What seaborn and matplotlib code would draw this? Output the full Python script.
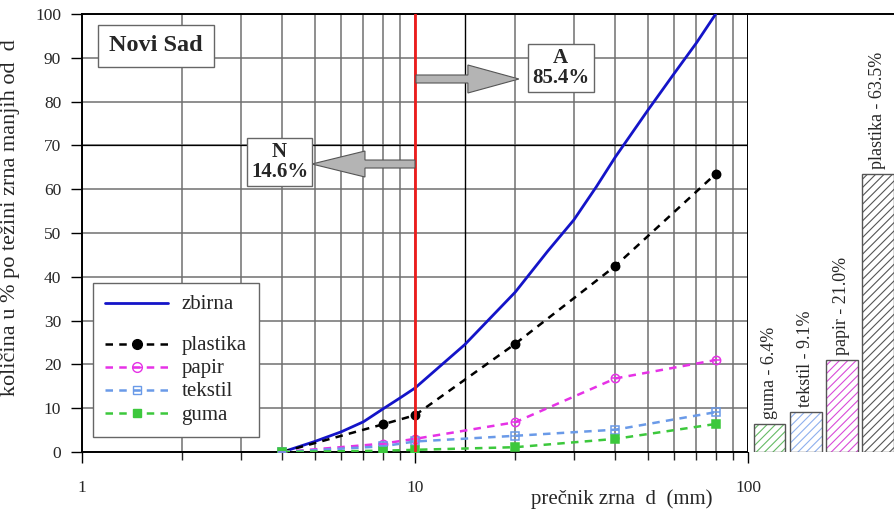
import numpy as np
import pandas as pd
import matplotlib
matplotlib.use("Agg")
import matplotlib.pyplot as plt
import seaborn as sns
from matplotlib.lines import Line2D
from matplotlib.patches import FancyArrow
from matplotlib.ticker import NullFormatter
from matplotlib.legend_handler import HandlerTuple

# grain size (mm) of the sieve points
sieve_d = [4, 8, 10, 20, 40, 80]
plastika = [0, 6.3, 8.4, 24.7, 42.5, 63.5]
papir = [0, 1.9, 3.0, 6.8, 16.8, 21.0]
tekstil = [0, 1.3, 2.4, 3.7, 5.1, 9.1]
guma = [0, 0.3, 0.5, 1.1, 3.0, 6.4]

# cumulative curve
zbirna_d = [4, 5, 6, 7, 8, 9, 10, 14.1, 20, 25, 30, 35, 40, 50, 60, 70, 80]
zbirna = [0, 2.4, 4.6, 6.9, 9.8, 12.3, 14.6, 24.5, 36.5, 45.8, 53.0, 60.5,
          67.4, 78.0, 86.4, 93.4, 100]

bar_names = ["guma", "tekstil", "papir", "plastika"]
bar_vals = [6.4, 9.1, 21.0, 63.5]

x_ticks = [1, 10, 100]
x_tick_labels = ["1", "10", "100"]
y_ticks = list(range(0, 101, 10))

cut_d = 10
share_n = 14.6
share_a = 85.4

sns.set_style("white")
plt.rcParams["font.family"] = ["Liberation Serif", "DejaVu Serif"]
plt.rcParams["hatch.linewidth"] = 0.8

c_zb = "#1414c8"
c_pl = "black"
c_pa = "#e632e6"
c_te = "#6a9ae8"
c_gu = "#3cc83c"
grid_c = "#707070"

fig = plt.figure(figsize=(8.94, 5.15), dpi=100)
ax = fig.add_axes([82 / 894, 1 - 452 / 515, 666 / 894, 438 / 515])
axb = fig.add_axes([748 / 894, 1 - 452 / 515, 146 / 894, 438 / 515])

ax.set_xscale("log")
ax.set_xlim(1, 100)
ax.set_ylim(0, 100)

# grid
ax.set_yticks(y_ticks)
ax.set_xticks(x_ticks, labels=x_tick_labels)
ax.xaxis.set_minor_formatter(NullFormatter())
ax.grid(True, which="both", axis="x", color=grid_c, lw=1.1)
ax.grid(True, which="major", axis="y", color=grid_c, lw=1.1)
ax.axhline(70, color="black", lw=0.9, zorder=1)
ax.axvline(14.1, color="black", lw=1.0, zorder=1)

# series
sns.lineplot(x=zbirna_d, y=zbirna, ax=ax, color=c_zb, lw=2, zorder=4)

dash = (3, 2.5)
series = [
    (plastika, c_pl, "o", c_pl),
    (papir, c_pa, "o", "none"),
    (tekstil, c_te, "s", "none"),
    (guma, c_gu, "s", c_gu),
]
for vals, col, mk, fc in series:
    sns.lineplot(x=sieve_d, y=vals, ax=ax, color=col, lw=1.8, marker=mk,
                 markersize=6, markerfacecolor=fc, markeredgecolor=col,
                 markeredgewidth=1.1, zorder=5)
    ax.lines[-1].set_dashes(dash)
for vals, col in [(papir, c_pa), (tekstil, c_te)]:
    ax.plot(sieve_d, vals, ls="none", marker="_", markersize=6,
            color=col, markeredgewidth=1.1, zorder=6)

ax.axvline(cut_d, color="#ee1c1c", lw=2, zorder=7)

# arrows
ax.add_patch(FancyArrow(0.5, 0.6575, -0.1547, 0, width=8 / 438,
                        head_width=26 / 438, head_length=53 / 666,
                        length_includes_head=True, transform=ax.transAxes,
                        fc="#b4b4b4", ec="#555555", lw=0.8, zorder=8))
ax.add_patch(FancyArrow(0.5015, 0.8516, 0.1545, 0, width=8 / 438,
                        head_width=28 / 438, head_length=51 / 666,
                        length_includes_head=True, transform=ax.transAxes,
                        fc="#b4b4b4", ec="#555555", lw=0.8, zorder=8))

box = dict(boxstyle="square,pad=0.2", fc="white", ec="#666666", lw=1)
ax.text(0.2966, 0.662, f"N\n{share_n}%", transform=ax.transAxes, ha="center",
        va="center", fontsize=15, fontweight="bold", linespacing=1.0,
        bbox=box, zorder=9)
ax.text(0.719, 0.876, f"A\n{share_a}%", transform=ax.transAxes, ha="center",
        va="center", fontsize=15, fontweight="bold", linespacing=1.0,
        bbox=box, zorder=9)
ax.text(0.111, 0.927, "Novi Sad", transform=ax.transAxes, ha="center",
        va="center", fontsize=17.5, fontweight="bold",
        bbox=dict(boxstyle="square,pad=0.45", fc="white", ec="#666666", lw=1),
        zorder=9)

# axes styling
for s in ax.spines.values():
    s.set_color("black")
    s.set_linewidth(1.4)
ax.tick_params(axis="both", which="major", direction="out", length=8,
               width=1, labelsize=12.5, color="black", bottom=True, left=True)
ax.tick_params(axis="x", which="minor", direction="out", length=5.5,
               width=1, bottom=True)
ax.tick_params(axis="x", which="major", pad=12)
ax.tick_params(axis="y", which="major", pad=7)

ax.set_ylabel("količina u % po težini zrna manjih od  d", fontsize=16)
ax.yaxis.set_label_coords(-0.093, 0.536)
ax.set_xlabel("prečnik zrna  d  (mm)", fontsize=15)
ax.xaxis.set_label_coords(0.811, -0.085)

# legend
h_zb = Line2D([], [], color=c_zb, lw=2)
h_blank = Line2D([], [], color="none")
h_pl = Line2D([], [], color=c_pl, lw=1.8, dashes=dash, marker="o",
              markersize=7, mfc=c_pl)
h_pa = (Line2D([], [], color=c_pa, lw=1.8, dashes=dash, marker="o",
               markersize=7, mfc="none"),
        Line2D([], [], ls="none", color=c_pa, marker="_", markersize=7))
h_te = (Line2D([], [], color=c_te, lw=1.8, dashes=dash, marker="s",
               markersize=6, mfc="none"),
        Line2D([], [], ls="none", color=c_te, marker="_", markersize=6))
h_gu = Line2D([], [], color=c_gu, lw=1.8, dashes=dash, marker="s",
              markersize=6, mfc=c_gu)
leg = ax.legend([h_zb, h_blank, h_pl, h_pa, h_te, h_gu],
                ["zbirna", "", "plastika", "papir", "tekstil", "guma"],
                handler_map={tuple: HandlerTuple(ndivide=1)},
                loc="lower left", bbox_to_anchor=(0.0165, 0.034),
                fontsize=15, frameon=True, fancybox=False, framealpha=1,
                edgecolor="#666666", handlelength=3.0, handletextpad=0.65,
                handleheight=0.4, labelspacing=0.2, borderpad=0.6,
                borderaxespad=0)
leg.get_frame().set_linewidth(1)
leg.set_zorder(10)
leg.get_texts()[1].set_fontsize(4)

# bar panel
hatch_cols = ["#66bb66", "#8fb0ee", "#d94bd9", "#555555"]
sns.barplot(x=bar_names, y=bar_vals, ax=axb, color="white", width=0.88,
            saturation=1)
for patch, hc in zip(axb.patches, hatch_cols):
    patch.set_facecolor("white")
    patch.set_edgecolor(hc)
    patch.set_hatch("////")
    patch.set_linewidth(0)
axb.bar(range(len(bar_vals)), bar_vals, width=0.88, fill=False,
        edgecolor="#555555", lw=1)
for i, (name, v) in enumerate(zip(bar_names, bar_vals)):
    axb.text(i, v + 1.2, f"{name} - {v:.1f}%", rotation=90, ha="center",
             va="bottom", fontsize=13)
axb.set_xlim(-0.6, 3.45)
axb.set_ylim(0, 100)
axb.set_xticks([])
axb.set_yticks([])
axb.set_xlabel("")
axb.set_ylabel("")
for side in ["left", "right", "bottom"]:
    axb.spines[side].set_visible(False)
axb.spines["top"].set_color("black")
axb.spines["top"].set_linewidth(1.4)

fig.savefig("out.png", dpi=100)
